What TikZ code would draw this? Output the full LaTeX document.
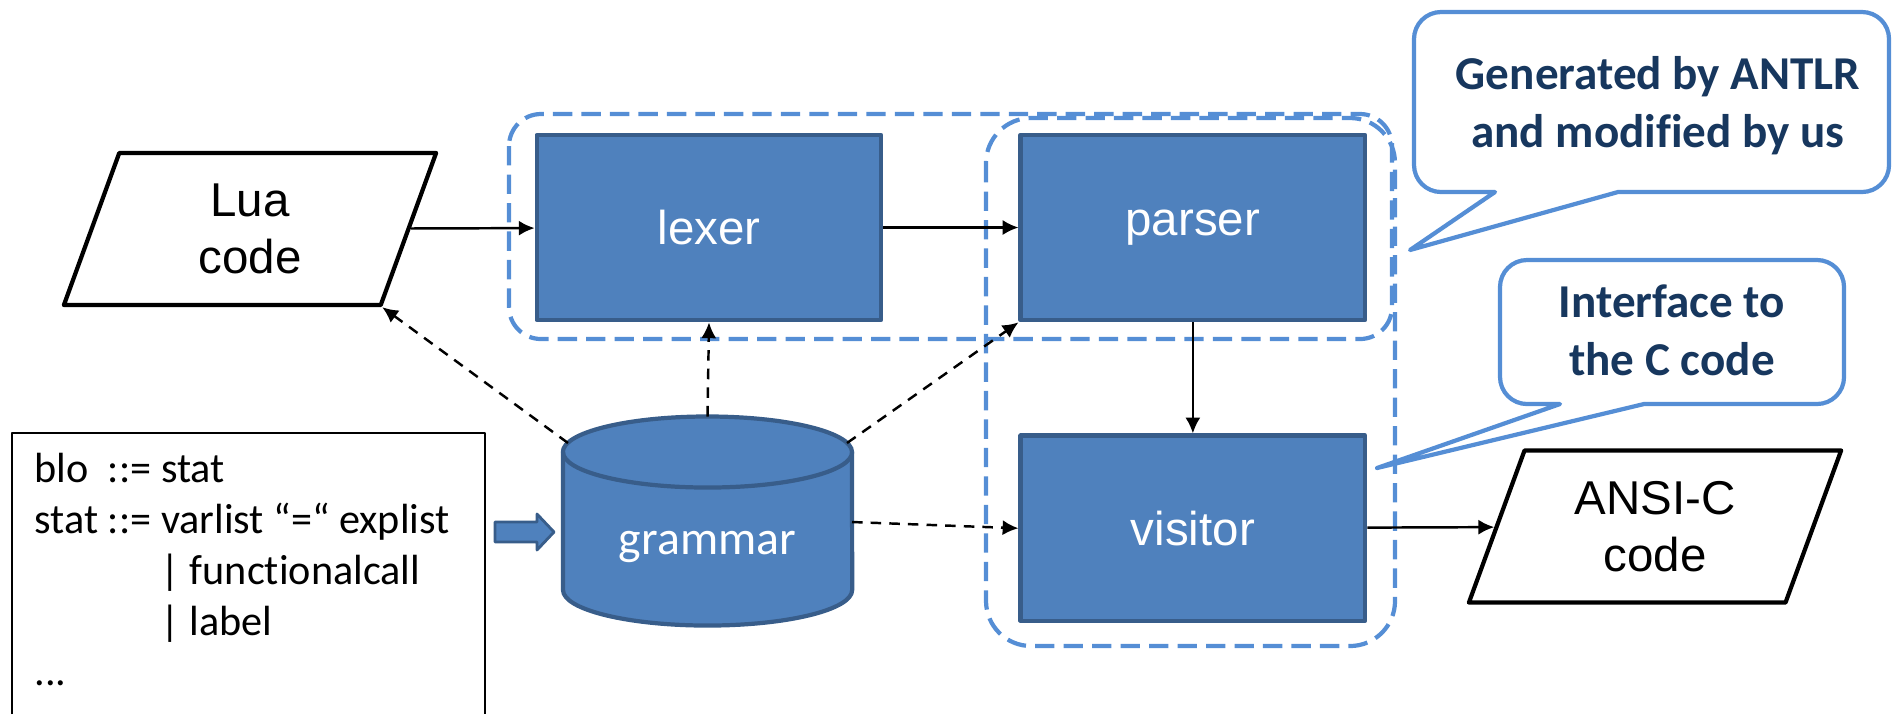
\documentclass[tikz,border=0pt]{standalone}
\usepackage{fontspec}
\setmainfont{Liberation Sans}
\newfontfamily\calibri[Ligatures=NoCommon]{Carlito}
\usetikzlibrary{positioning,shapes.geometric,arrows.meta}

\definecolor{boxblue}{RGB}{79,129,189}
\definecolor{boxedge}{RGB}{56,93,138}
\definecolor{grpblue}{RGB}{85,142,213}
\definecolor{notetext}{RGB}{23,55,94}

\tikzset{
  stage/.style={rectangle,fill=boxblue,draw=boxedge,line width=1.3pt,text=white,
    minimum width=3.44cm,minimum height=1.85cm,font=\fontsize{13.5}{16}\selectfont},
  iofile/.style={trapezium,trapezium left angle=64,trapezium right angle=116,
    trapezium stretches body,draw,line width=1.2pt,minimum width=3.72cm,
    minimum height=1.52cm,align=center,font=\fontsize{13.5}{16.2}\selectfont},
  group/.style={draw=grpblue,line width=1.2pt,dash pattern=on 5.5pt off 2.6pt},
  note/.style={draw=grpblue,line width=1.2pt,fill=white},
  notetxt/.style={align=center,text=notetext,
    font=\calibri\bfseries\fontsize{13.4}{16.5}\selectfont},
  flow/.style={->,line width=0.7pt},
  dep/.style={->,line width=0.7pt,dash pattern=on 3pt off 2.3pt}
}

\begin{document}
\begin{tikzpicture}[x=0.01cm,y=0.01cm,line join=round,>={Latex[length=4.5pt,width=4.3pt]}]
\useasboundingbox (0,0) rectangle (1892,-714);

% groups
\draw[group,rounded corners=0.32cm] (509,-114) rectangle (1392,-339);
\draw[group,rounded corners=0.45cm] (986,-118) rectangle (1395,-646);

% stages
\node[stage] (lexer) at (709,-227.5) {lexer};
\node[stage,right=1.35cm of lexer] (parser) {parser};
\node[stage,below=1.11cm of parser] (visitor) {visitor};

\node[iofile] (lua) at (250,-229) {Lua\\code};
\node[iofile] (ansi) at (1655,-526.5) {ANSI-C\\code};

% grammar database
\filldraw[fill=boxblue,draw=boxedge,line width=1.2pt] (563,-452) -- (563,-590)
  arc[start angle=180,end angle=360,x radius=1.445cm,y radius=0.355cm] -- (852,-452)
  arc[start angle=0,end angle=180,x radius=1.445cm,y radius=0.355cm] -- cycle;
\draw[boxedge,line width=1.2pt] (563,-452)
  arc[start angle=180,end angle=360,x radius=1.445cm,y radius=0.355cm];
\node[text=white,font=\calibri\fontsize{13.6}{16}\selectfont] (grammar) at (707.5,-547) {grammar};
\coordinate (gramL) at (568,-443);
\coordinate (gramT) at (707.5,-416.5);
\coordinate (gramR) at (847,-443);
\coordinate (gramE) at (852,-522);

% syntax excerpt
\draw[line width=0.6pt] (12,-714) |- (485,-433) -- (485,-714);
\node[anchor=north west,inner sep=0pt,align=left,font=\calibri\fontsize{12}{14.5}\selectfont]
  (syntax) at (34,-452) {blo\ \ ::= stat\\stat ::= varlist “=“ explist\\
  \phantom{stat ::= }| functionalcall\\\phantom{stat ::= }| label\\...};
\filldraw[fill=boxblue,draw=boxedge,line width=0.8pt] (495,-522) -- (537,-522) -- (537,-514)
  -- (554,-532) -- (537,-550) -- (537,-542) -- (495,-542) -- cycle;

% connectors
\draw[flow] (lua) -- (lexer);
\draw[flow] (lexer) -- (parser);
\draw[flow] (parser) -- (visitor);
\draw[flow] (visitor) -- (ansi);
\draw[dep] (gramL) -- (lua.bottom right corner);
\draw[dep] (gramT) -- (lexer.south);
\draw[dep] (gramR) -- (parser.south west);
\draw[dep] (gramE) -- (visitor.west);

% callouts
\draw[note] (1495,-192) -- (1410,-250) -- (1618,-192) -- (1862,-192)
  arc[start angle=-90,end angle=0,radius=0.27cm] -- (1889,-39)
  arc[start angle=0,end angle=90,radius=0.27cm] -- (1441,-12)
  arc[start angle=90,end angle=180,radius=0.27cm] -- (1414,-165)
  arc[start angle=180,end angle=270,radius=0.27cm] -- cycle;
\node[notetxt] (antlr) at (1658,-106) {Generated by ANTLR\\and modified by us};

\draw[note] (1560,-404) -- (1377,-468) -- (1644,-404) -- (1817,-404)
  arc[start angle=-90,end angle=0,radius=0.27cm] -- (1844,-287)
  arc[start angle=0,end angle=90,radius=0.27cm] -- (1527,-260)
  arc[start angle=90,end angle=180,radius=0.27cm] -- (1500,-377)
  arc[start angle=180,end angle=270,radius=0.27cm] -- cycle;
\node[notetxt] (iface) at (1672,-330) {Interface to\\the C code};
\end{tikzpicture}
\end{document}
